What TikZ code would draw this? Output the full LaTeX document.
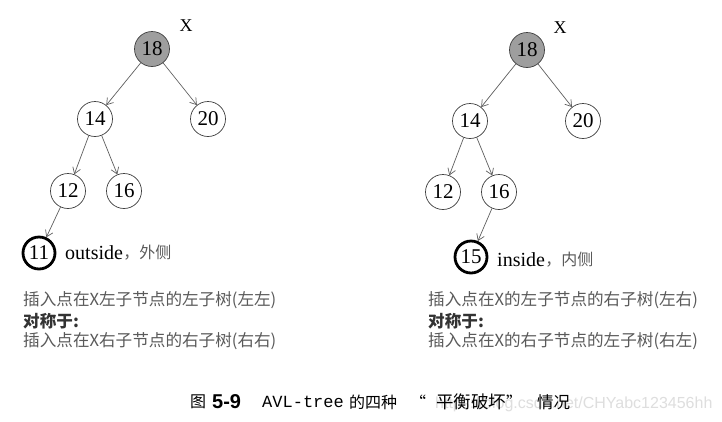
\documentclass[tikz,border=0pt]{standalone}
\usepackage{fontspec}
\setmainfont{Liberation Serif}
\newfontfamily\cjk{Noto Sans CJK SC}
\newfontfamily\monof{Liberation Mono}
\newfontfamily\sansf{Liberation Sans}
\usetikzlibrary{arrows.meta}
\definecolor{nodegray}{RGB}{158,158,158}
\definecolor{edgegray}{RGB}{95,95,95}
\definecolor{txtgray}{RGB}{90,90,90}
\definecolor{wmgray}{RGB}{222,222,222}
\tikzset{
  tn/.style={circle, draw=black!75, line width=0.7pt, minimum size=35pt, inner sep=0pt,
             font=\fontsize{21}{22}\selectfont, fill=white},
  rootn/.style={tn, fill=nodegray},
  newn/.style={tn, draw=black, line width=2.8pt, minimum size=32pt},
  edge/.style={draw=edgegray, line width=0.7pt, -{Straight Barb[length=6pt,width=8pt]}},
  xlab/.style={font=\fontsize{18}{20}\selectfont},
  side/.style={anchor=west, inner sep=0pt, font=\fontsize{20}{22}\selectfont},
  sidecjk/.style={anchor=west, inner sep=0pt, text=txtgray, font=\cjk\fontsize{16}{18}\selectfont},
  note/.style={anchor=west, inner sep=0pt, text=txtgray, font=\cjk\fontsize{16.6}{18}\selectfont},
  notebold/.style={note, text=black!80, font=\cjk\bfseries\fontsize{16.6}{18}\selectfont},
  captxt/.style={anchor=west, inner sep=0pt},
  capcjk/.style={captxt, font=\cjk\fontsize{16}{18}\selectfont}
}
\begin{document}
\begin{tikzpicture}[x=1pt, y=-1pt]
\useasboundingbox[fill=white] (0,0) rectangle (722,421);
% left tree
\node[rootn] (l18) at (152,49) {18};
\node[xlab] (lx) at (186,26) {X};
\node[tn] (l14) at (95,119) {14};
\node[tn] (l20) at (208,119) {20};
\node[tn] (l12) at (68,191) {12};
\node[tn] (l16) at (124,191) {16};
\node[newn] (l11) at (39,253) {11};
\draw[edge] (l18) -- (l14);
\draw[edge] (l18) -- (l20);
\draw[edge] (l14) -- (l12);
\draw[edge] (l14) -- (l16);
\draw[edge] (l12) -- (l11);
\node[side] (lout) at (65,253) {outside};
\node[sidecjk] (loutc) at (lout.east) {，外侧};
% right tree
\node[rootn] (r18) at (527,50) {18};
\node[xlab] (rx) at (560,28) {X};
\node[tn] (r14) at (470,121) {14};
\node[tn] (r20) at (583,121) {20};
\node[tn] (r12) at (443,192) {12};
\node[tn] (r16) at (499,192) {16};
\node[newn] (r15) at (471,257) {15};
\draw[edge] (r18) -- (r14);
\draw[edge] (r18) -- (r20);
\draw[edge] (r14) -- (r12);
\draw[edge] (r14) -- (r16);
\draw[edge] (r16) -- (r15);
\node[side] (rin) at (497,260) {inside};
\node[sidecjk] (rinc) at (rin.east) {，内侧};
% notes
\node[note] (ln1) at (23,300) {插入点在X左子节点的左子树(左左)};
\node[notebold] (ln2) at (23,321) {对称于:};
\node[note] (ln3) at (23,341) {插入点在X右子节点的右子树(右右)};
\node[note] (rn1) at (428,300) {插入点在X的左子节点的右子树(左右)};
\node[notebold] (rn2) at (428,321) {对称于:};
\node[note] (rn3) at (428,341) {插入点在X的右子节点的左子树(右左)};
% watermark
\node[captxt, text=wmgray, font=\sansf\fontsize{16}{18}\selectfont] (wm) at (435,404) {https://blog.csdn.net/CHYabc123456hh};
% caption
\node[capcjk] (c1) at (190,402) {图};
\node[captxt, font=\sansf\bfseries\fontsize{20}{20}\selectfont] (c2) at (212,402) {5-9};
\node[captxt, font=\monof\fontsize{17}{20}\selectfont] (c3) at (262,402) {AVL-tree};
\node[capcjk] (c4) at (349,402) {的四种};
\node[capcjk] (c5) at (410,402) {“};
\node[capcjk, font=\cjk\fontsize{17.5}{18}\selectfont] (c6) at (436,402) {平衡破坏};
\node[capcjk] (c7) at (506,402) {”};
\node[capcjk, font=\cjk\fontsize{16.5}{18}\selectfont] (c8) at (537,402) {情况};
\end{tikzpicture}
\end{document}
